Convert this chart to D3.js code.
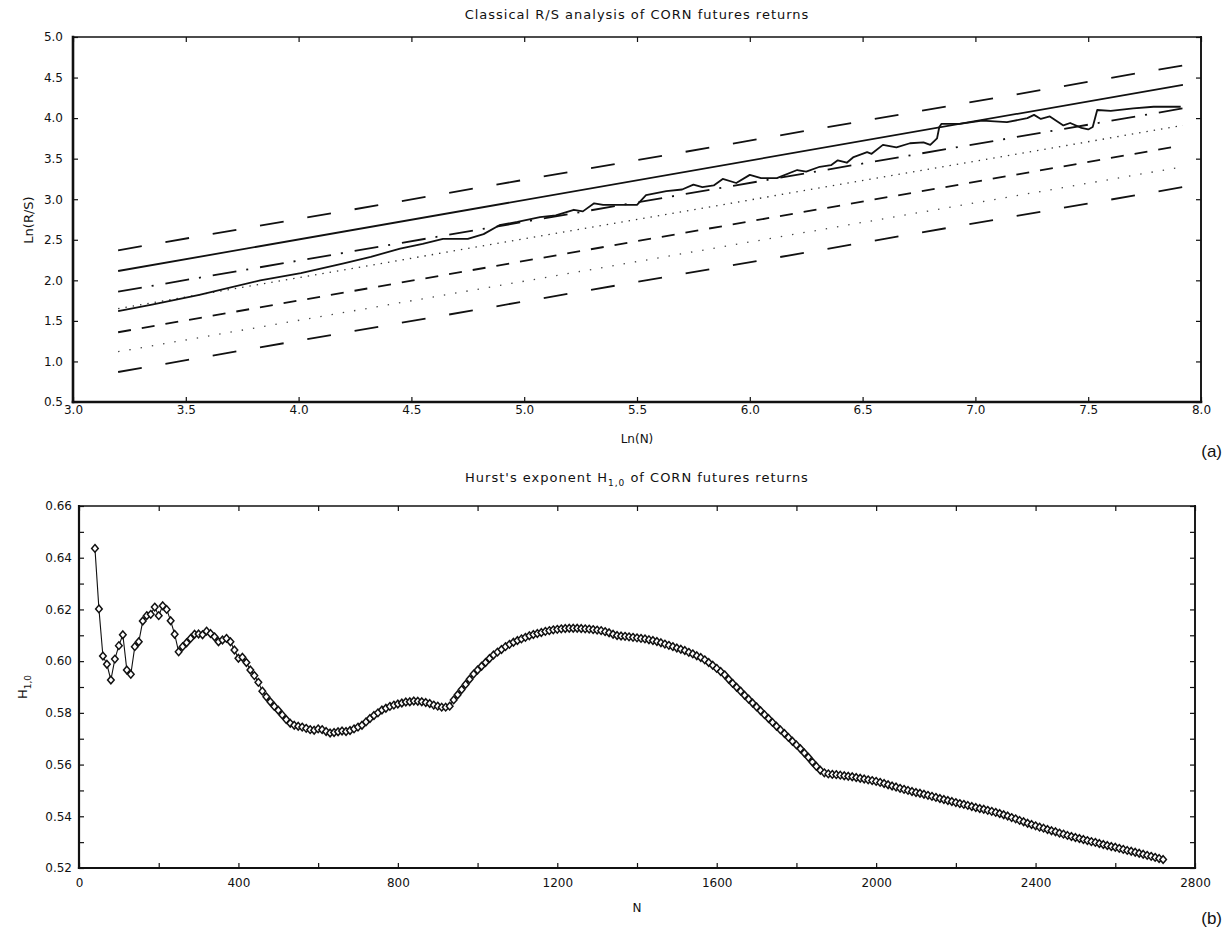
<!DOCTYPE html>
<html>
<head>
<meta charset="utf-8">
<script src="https://cdn.jsdelivr.net/npm/d3@7"></script>
<style>
body { margin: 0; background: #fff; }
text { font-family: "DejaVu Sans", sans-serif; fill: #111; }
.tick line { stroke: #111; stroke-width: 1.2; }
.tick text { font-size: 12px; }
</style>
</head>
<body>
<svg id="chart" width="1228" height="936"></svg>
<script>
// ---- panel (a): classical R/S analysis ----
var rsXDomain = [3.0, 8.0];
var rsYDomain = [0.5, 5.0];
var rsXTicks = [3.0, 3.5, 4.0, 4.5, 5.0, 5.5, 6.0, 6.5, 7.0, 7.5, 8.0];
var rsYTicks = [0.5, 1.0, 1.5, 2.0, 2.5, 3.0, 3.5, 4.0, 4.5, 5.0];

// straight lines, [Ln(N), Ln(R/S)] at both ends
var upperBand   = [[3.2, 2.37], [7.92, 4.65]];
var expectedRS  = [[3.2, 2.115], [7.92, 4.41]];
var fittedRS    = [[3.2, 1.86], [7.92, 4.12]];
var upperDotted = [[3.2, 1.65], [7.92, 3.91]];
var shortDashed = [[3.2, 1.36], [7.87, 3.64]];
var lowerDotted = [[3.2, 1.12], [7.92, 3.40]];
var lowerBand   = [[3.2, 0.87], [7.92, 3.15]];

// observed R/S
var lnN  = [3.20, 3.35, 3.56, 3.83, 4.01, 4.20, 4.32, 4.45, 4.55, 4.64, 4.75, 4.82, 4.89, 4.97, 5.07, 5.14,
            5.22, 5.26, 5.31, 5.35, 5.50, 5.54, 5.63, 5.70, 5.75, 5.79, 5.84, 5.88, 5.94, 6.00, 6.05, 6.12,
            6.21, 6.25, 6.31, 6.36, 6.39, 6.43, 6.46, 6.52, 6.54, 6.59, 6.65, 6.71, 6.77, 6.80, 6.83, 6.84,
            6.85, 6.93, 7.03, 7.14, 7.23, 7.26, 7.29, 7.33, 7.39, 7.42, 7.47, 7.50, 7.52, 7.54, 7.60, 7.70,
            7.79, 7.85, 7.91];
var lnRS = [1.62, 1.70, 1.82, 2.00, 2.09, 2.21, 2.29, 2.39, 2.45, 2.51, 2.51, 2.57, 2.68, 2.72, 2.78, 2.80,
            2.87, 2.85, 2.95, 2.93, 2.93, 3.05, 3.10, 3.12, 3.18, 3.15, 3.17, 3.25, 3.20, 3.30, 3.26, 3.26,
            3.36, 3.34, 3.40, 3.42, 3.48, 3.45, 3.52, 3.58, 3.56, 3.67, 3.64, 3.69, 3.70, 3.67, 3.75, 3.89,
            3.93, 3.93, 3.97, 3.95, 4.00, 4.04, 3.99, 4.02, 3.91, 3.94, 3.88, 3.86, 3.89, 4.10, 4.09, 4.12,
            4.14, 4.14, 4.14];

// ---- panel (b): Hurst exponent ----
var hXDomain = [0, 2800];
var hYDomain = [0.52, 0.66];
var hXTicks = [0, 400, 800, 1200, 1600, 2000, 2400, 2800];
var hXMinor = [200, 600, 1000, 1400, 1800, 2200, 2600];
var hYTicks = [0.52, 0.54, 0.56, 0.58, 0.60, 0.62, 0.64, 0.66];
var hYMinor = [0.53, 0.55, 0.57, 0.59, 0.61, 0.63, 0.65];

var hN = d3.range(40, 2721, 10);
var hValues = [
  0.6436,0.6202,0.6020,0.5988,0.5927,0.6008,0.6060,0.6102,0.5966,0.5949,
  0.6056,0.6075,0.6155,0.6176,0.6181,0.6209,0.6176,0.6214,0.6200,0.6156,
  0.6104,0.6036,0.6056,0.6071,0.6088,0.6104,0.6105,0.6102,0.6116,0.6107,
  0.6094,0.6075,0.6082,0.6088,0.6075,0.6043,0.6011,0.6015,0.5995,0.5966,
  0.5944,0.5918,0.5884,0.5862,0.5843,0.5825,0.5810,0.5792,0.5774,0.5760,
  0.5752,0.5748,0.5745,0.5740,0.5735,0.5733,0.5738,0.5735,0.5728,0.5722,
  0.5724,0.5727,0.5730,0.5728,0.5732,0.5738,0.5745,0.5752,0.5765,0.5778,
  0.5790,0.5800,0.5811,0.5818,0.5825,0.5830,0.5834,0.5838,0.5842,0.5843,
  0.5846,0.5845,0.5843,0.5840,0.5836,0.5830,0.5826,0.5822,0.5822,0.5826,
  0.5850,0.5870,0.5890,0.5910,0.5930,0.5950,0.5966,0.5980,0.5995,0.6010,
  0.6024,0.6035,0.6045,0.6056,0.6065,0.6073,0.6080,0.6086,0.6092,0.6098,
  0.6103,0.6107,0.6111,0.6115,0.6118,0.6121,0.6123,0.6125,0.6126,0.6127,
  0.6127,0.6127,0.6126,0.6125,0.6124,0.6122,0.6120,0.6118,0.6114,0.6110,
  0.6104,0.6099,0.6097,0.6096,0.6094,0.6092,0.6090,0.6088,0.6086,0.6083,
  0.6080,0.6076,0.6071,0.6066,0.6061,0.6056,0.6051,0.6046,0.6041,0.6034,
  0.6028,0.6021,0.6014,0.6005,0.5995,0.5984,0.5972,0.5960,0.5947,0.5930,
  0.5914,0.5899,0.5884,0.5868,0.5853,0.5838,0.5823,0.5808,0.5793,0.5778,
  0.5763,0.5748,0.5734,0.5720,0.5705,0.5690,0.5676,0.5661,0.5645,0.5628,
  0.5610,0.5593,0.5578,0.5568,0.5564,0.5562,0.5561,0.5559,0.5557,0.5555,
  0.5553,0.5550,0.5547,0.5544,0.5541,0.5538,0.5535,0.5531,0.5527,0.5522,
  0.5517,0.5513,0.5508,0.5504,0.5500,0.5496,0.5492,0.5489,0.5485,0.5481,
  0.5477,0.5473,0.5469,0.5465,0.5461,0.5457,0.5453,0.5449,0.5446,0.5442,
  0.5438,0.5434,0.5430,0.5427,0.5423,0.5419,0.5415,0.5411,0.5406,0.5401,
  0.5395,0.5390,0.5384,0.5379,0.5373,0.5368,0.5363,0.5358,0.5354,0.5349,
  0.5344,0.5340,0.5335,0.5331,0.5326,0.5322,0.5318,0.5314,0.5310,0.5306,
  0.5302,0.5299,0.5295,0.5291,0.5287,0.5283,0.5280,0.5276,0.5272,0.5268,
  0.5265,0.5261,0.5257,0.5253,0.5249,0.5245,0.5241,0.5237,0.5233
];

var svg = d3.select('#chart');
svg.append('rect').attr('width', 1228).attr('height', 936).attr('fill', '#fff');

// draws the frame with inward ticks on all four sides
function frame(g, x, y, xTicks, yTicks, opts) {
	var x0 = x.range()[0], x1 = x.range()[1];
	var y0 = y.range()[0], y1 = y.range()[1];
	var ts = -5;

	g.append('g').attr('transform', 'translate(0,' + y0 + ')')
		.call(d3.axisBottom(x).tickValues(xTicks).tickSizeInner(ts).tickSizeOuter(0)
			.tickPadding(opts.xPad).tickFormat(opts.xFmt));
	g.append('g').attr('transform', 'translate(0,' + y1 + ')')
		.call(d3.axisTop(x).tickValues(opts.xAll).tickSizeInner(ts).tickSizeOuter(0).tickFormat(''));
	g.append('g').attr('transform', 'translate(' + x0 + ',0)')
		.call(d3.axisLeft(y).tickValues(yTicks).tickSizeInner(ts).tickSizeOuter(0)
			.tickPadding(opts.yPad).tickFormat(opts.yFmt));
	g.append('g').attr('transform', 'translate(' + x1 + ',0)')
		.call(d3.axisRight(y).tickValues(opts.yAll).tickSizeInner(ts).tickSizeOuter(0).tickFormat(''));
	if (opts.xMinor) {
		g.append('g').attr('transform', 'translate(0,' + y0 + ')')
			.call(d3.axisBottom(x).tickValues(opts.xMinor).tickSizeInner(ts).tickSizeOuter(0).tickFormat(''));
		g.append('g').attr('transform', 'translate(' + x0 + ',0)')
			.call(d3.axisLeft(y).tickValues(opts.yMinor).tickSizeInner(ts).tickSizeOuter(0).tickFormat(''));
	}
	g.selectAll('.domain').remove();
	g.selectAll('.tick text').attr('fill', '#111').style('font-family', '"DejaVu Sans", sans-serif');

	var edges = [
		[x0, y0, x1, y0, opts.thick],
		[x0, y0, x0, y1, opts.thick],
		[x0, y1, x1, y1, 1.7],
		[x1, y0, x1, y1, 1.9]
	];
	g.selectAll('line.edge').data(edges).enter().append('line')
		.attr('class', 'edge')
		.attr('x1', function (d) { return d[0]; }).attr('y1', function (d) { return d[1]; })
		.attr('x2', function (d) { return d[2]; }).attr('y2', function (d) { return d[3]; })
		.attr('stroke', '#111').attr('stroke-width', function (d) { return d[4]; })
		.attr('stroke-linecap', 'square');
}

/* panel (a) */
var ax = d3.scaleLinear(rsXDomain, [73, 1201]);
var ay = d3.scaleLinear(rsYDomain, [402, 37]);
var ga = svg.append('g');

var refLines = [
	{ pts: upperBand,   dash: '24,24', w: 1.8, c: '#111' },
	{ pts: expectedRS,  dash: null,    w: 1.8, c: '#111' },
	{ pts: fittedRS,    dash: '24,10,2,12', w: 1.8, c: '#111' },
	{ pts: upperDotted, dash: '1.4,6', w: 1.3, c: '#333' },
	{ pts: shortDashed, dash: '13,11', w: 1.8, c: '#111' },
	{ pts: lowerDotted, dash: '1.4,10', w: 1.3, c: '#444' },
	{ pts: lowerBand,   dash: '24,24', w: 1.8, c: '#111' }
];
var lineA = d3.line().x(function (d) { return ax(d[0]); }).y(function (d) { return ay(d[1]); });
ga.selectAll('path.ref').data(refLines).enter().append('path')
	.attr('class', 'ref')
	.attr('d', function (d) { return lineA(d.pts); })
	.attr('fill', 'none')
	.attr('stroke', function (d) { return d.c; })
	.attr('stroke-width', function (d) { return d.w; })
	.attr('stroke-dasharray', function (d) { return d.dash; });

ga.append('path')
	.datum(d3.zip(lnN, lnRS))
	.attr('d', lineA)
	.attr('fill', 'none').attr('stroke', '#111').attr('stroke-width', 1.8)
	.attr('stroke-linejoin', 'round');

frame(ga, ax, ay, rsXTicks, rsYTicks, {
	xPad: 3, yPad: 10, thick: 2.6,
	xFmt: d3.format('.1f'), yFmt: d3.format('.1f'),
	xAll: rsXTicks, yAll: rsYTicks
});

ga.append('text').attr('x', 637).attr('y', 19).attr('text-anchor', 'middle')
	.style('font-size', '13px').style('letter-spacing', '1px')
	.text('Classical R/S analysis of CORN futures returns');
ga.append('text').attr('x', 637).attr('y', 443).attr('text-anchor', 'middle')
	.style('font-size', '12px').text('Ln(N)');
ga.append('text').attr('transform', 'translate(33,220) rotate(-90)').attr('text-anchor', 'middle')
	.style('font-size', '13px').text('Ln(R/S)');
ga.append('text').attr('x', 1222).attr('y', 457).attr('text-anchor', 'end')
	.style('font-family', '"Liberation Sans", Arial, sans-serif').style('font-size', '17px').text('(a)');

/* panel (b) */
var bx = d3.scaleLinear(hXDomain, [79, 1195]);
var by = d3.scaleLinear(hYDomain, [868, 506]);
var gb = svg.append('g');

frame(gb, bx, by, hXTicks, hYTicks, {
	xPad: 10, yPad: 7, thick: 2.2,
	xFmt: d3.format('d'), yFmt: d3.format('.2f'),
	xAll: hXTicks.concat(hXMinor), yAll: hYTicks.concat(hYMinor),
	xMinor: hXMinor, yMinor: hYMinor
});

var hPts = d3.zip(hN, hValues);
var lineB = d3.line().x(function (d) { return bx(d[0]); }).y(function (d) { return by(d[1]); });
gb.append('path').datum(hPts).attr('d', lineB)
	.attr('fill', 'none').attr('stroke', '#111').attr('stroke-width', 1.1);

var diamond = 'M0,-3.8L3.3,0L0,3.8L-3.3,0Z';
gb.selectAll('path.pt').data(hPts).enter().append('path')
	.attr('class', 'pt')
	.attr('d', diamond)
	.attr('transform', function (d) { return 'translate(' + bx(d[0]) + ',' + by(d[1]) + ')'; })
	.attr('fill', '#fff').attr('stroke', '#111').attr('stroke-width', 1.5);

var tb = gb.append('text').attr('x', 637).attr('y', 482).attr('text-anchor', 'middle')
	.style('font-size', '13px').style('letter-spacing', '1px');
tb.append('tspan').text("Hurst's exponent H");
tb.append('tspan').attr('dy', 4).style('font-size', '9px').text('1,0');
tb.append('tspan').attr('dy', -4).text(' of CORN futures returns');

gb.append('text').attr('x', 637).attr('y', 912).attr('text-anchor', 'middle')
	.style('font-size', '12px').text('N');
var yl = gb.append('text').attr('transform', 'translate(27,687) rotate(-90)').attr('text-anchor', 'middle')
	.style('font-size', '13px');
yl.append('tspan').text('H');
yl.append('tspan').attr('dy', 4).style('font-size', '9px').text('1,0');
gb.append('text').attr('x', 1222).attr('y', 924).attr('text-anchor', 'end')
	.style('font-family', '"Liberation Sans", Arial, sans-serif').style('font-size', '17px').text('(b)');
</script>
</body>
</html>
